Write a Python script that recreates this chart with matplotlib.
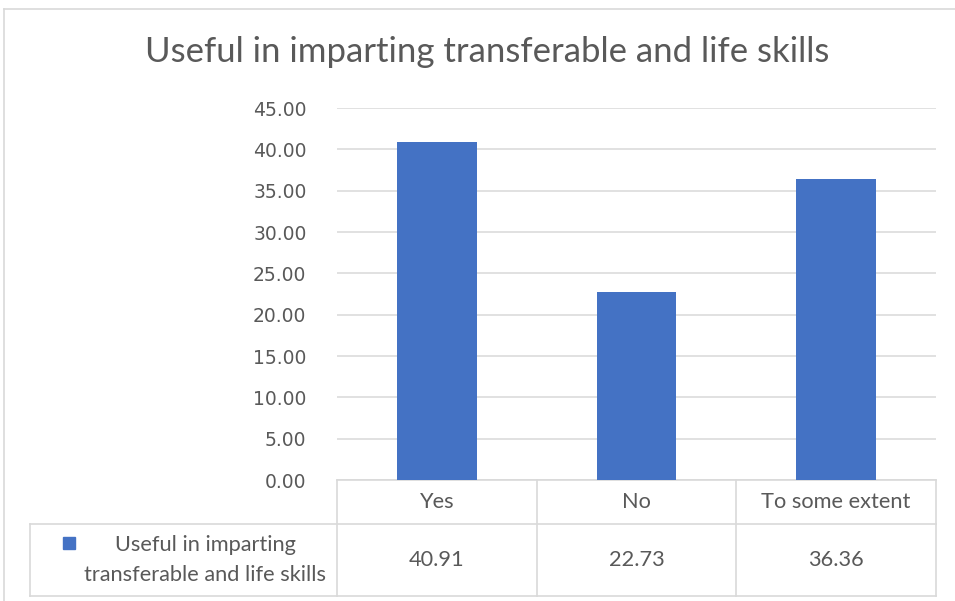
import matplotlib
matplotlib.use("Agg")
import matplotlib.pyplot as plt
from matplotlib.transforms import blended_transform_factory
from matplotlib.patches import Rectangle


TITLE = "Useful in imparting transferable and life skills"
SERIES_NAME = "Useful in imparting\ntransferable and life skills"
CATEGORIES = ["Yes", "No", "To some extent"]
VALUES = [40.91, 22.73, 36.36]
Y_TICKS = [0, 5, 10, 15, 20, 25, 30, 35, 40, 45]

BAR_COLOR = "#4472C4"
GRID_COLOR = "#d9d9d9"
TEXT_COLOR = "#595959"
TABLE_FONT = ["Lato", "DejaVu Sans"]

W, H = 955, 601
fig = plt.figure(figsize=(W / 100, H / 100), dpi=100)


def fx(px):
    return px / W


def fy(py):
    return 1 - py / H


# outer chart border (cut at right/bottom edges)
fig.add_artist(plt.Line2D([fx(4), 1], [fy(9), fy(9)], color=GRID_COLOR, lw=1.2))
fig.add_artist(plt.Line2D([fx(4), fx(4)], [fy(9), 0], color=GRID_COLOR, lw=1.2))

fig.text(fx(487), fy(52), TITLE, ha="center", va="center", fontsize=25,
         color=TEXT_COLOR, family=TABLE_FONT)

ax = fig.add_axes([fx(337), fy(480), fx(936) - fx(337), fy(108) - fy(480)])
x = list(range(len(CATEGORIES)))
ax.bar(x, VALUES, width=0.4, color=BAR_COLOR, zorder=3)
ax.set_xlim(-0.5, len(CATEGORIES) - 0.5)
ax.set_ylim(0, 45)
ax.set_yticks(Y_TICKS)
ax.set_yticklabels([f"{v:.2f}" for v in Y_TICKS])
ax.tick_params(axis="y", length=0, pad=22, labelsize=13.5, labelcolor=TEXT_COLOR)
ax.set_xticks([])
ax.grid(axis="y", color=GRID_COLOR, lw=1.1, zorder=0)
for s in ax.spines.values():
    s.set_visible(False)

# data table below the axes
tr = blended_transform_factory(ax.transData, ax.transAxes)
tra = ax.transAxes
row1 = -44 / 372
row2 = -116 / 372
left_cell = (30 - 337) / 599
lkw = dict(color=GRID_COLOR, lw=1.2, clip_on=False)

ax.plot([0, 1], [0, 0], transform=tra, **lkw)
ax.plot([left_cell, 1], [row1, row1], transform=tra, **lkw)
ax.plot([left_cell, 1], [row2, row2], transform=tra, **lkw)
ax.plot([left_cell, left_cell], [row1, row2], transform=tra, **lkw)
for i in range(len(CATEGORIES) + 1):
    xb = i - 0.5
    ax.plot([xb, xb], [0, row2], transform=tr, **lkw)

for i, (cat, val) in enumerate(zip(CATEGORIES, VALUES)):
    ax.text(i, row1 / 2, cat, transform=tr, ha="center", va="center",
            fontsize=15.7, color=TEXT_COLOR, family=TABLE_FONT)
    ax.text(i, (row1 + row2) / 2, f"{val:.2f}", transform=tr, ha="center",
            va="center", fontsize=15.7, color=TEXT_COLOR, family=TABLE_FONT)

# legend key cell
ax.text((205 - 337) / 599, (row1 + row2) / 2, SERIES_NAME, transform=tra,
        ha="center", va="center", fontsize=15.7, color=TEXT_COLOR,
        family=TABLE_FONT, linespacing=1.6)
ax.add_patch(Rectangle(((63 - 337) / 599, (480 - 549) / 372), 12 / 599, 12 / 372,
                       transform=tra, color=BAR_COLOR, clip_on=False))

fig.savefig("out.png", dpi=100)
